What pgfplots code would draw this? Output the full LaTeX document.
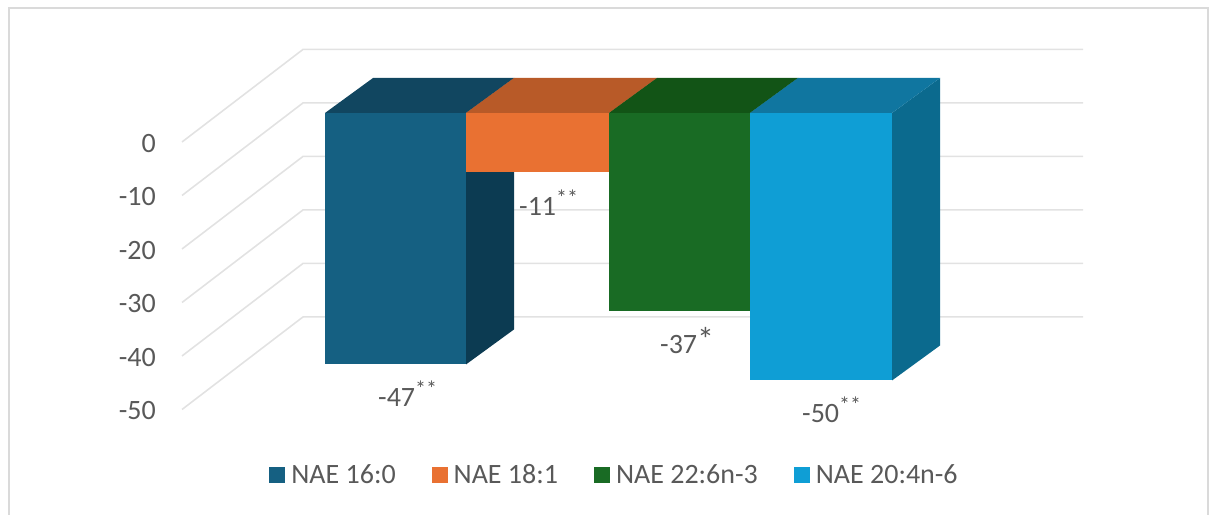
\documentclass[border=0pt]{standalone}
\usepackage{fontspec}
\setmainfont{Carlito}
\usepackage{pgfplots}
\pgfplotsset{compat=1.18}

\definecolor{palm}{HTML}{156082}\definecolor{palmtop}{HTML}{114660}\definecolor{palmside}{HTML}{0C3B52}
\definecolor{olei}{HTML}{E97132}\definecolor{oleitop}{HTML}{B85A28}\definecolor{oleiside}{HTML}{A04E22}
\definecolor{doco}{HTML}{196B24}\definecolor{docotop}{HTML}{125416}\definecolor{docoside}{HTML}{104A14}
\definecolor{arac}{HTML}{0F9ED5}\definecolor{aractop}{HTML}{1076A0}\definecolor{aracside}{HTML}{0B6A8E}
\definecolor{gridgrey}{HTML}{E2E2E2}
\definecolor{framegrey}{HTML}{DADADA}
\definecolor{labelgrey}{HTML}{595959}

% Depth of the chart floor and of the bars, in x units and in y-axis units
\def\walldx{121}\def\walldy{17.3}
\def\barfront{5.42}\def\bardx{48}\def\bardy{6.54}

% Significance stars set above the value
\newcommand{\sig}[3]{\raisebox{#2pt}{\fontsize{#3}{#3}\selectfont #1}}

% Wall gridline at one tick value
\newcommand{\wallline}[1]{%
  \pgfmathsetmacro\ya{#1+\walldy}%
  \addplot[gridgrey, line width=1.6pt, forget plot] coordinates {(182,#1) (303,\ya) (1083,\ya)};
}
% Block with its side, top and front faces: x0, x1, value, colours
\newcommand{\barblock}[6]{%
  \pgfmathsetmacro\ytop{\barfront}%
  \pgfmathsetmacro\ybot{#3+\barfront}%
  \pgfmathsetmacro\ytopb{\barfront+\bardy}%
  \pgfmathsetmacro\ybotb{#3+\barfront+\bardy}%
  \pgfmathsetmacro\xa{#1+\bardx}%
  \pgfmathsetmacro\xb{#2+\bardx}%
  \addplot[fill=#6, draw=none, forget plot] coordinates {(#2,\ytop) (\xb,\ytopb) (\xb,\ybotb) (#2,\ybot)} --cycle;
  \addplot[fill=#5, draw=none, forget plot] coordinates {(#1,\ytop) (\xa,\ytopb) (\xb,\ytopb) (#2,\ytop)} --cycle;
  \addplot[fill=#4, draw=none, forget plot] coordinates {(#1,\ytop) (#2,\ytop) (#2,\ybot) (#1,\ybot)} --cycle;
}

\begin{document}
\begin{tikzpicture}
\begin{axis}[
  scale only axis, width=1028pt, height=515pt,
  xmin=182, xmax=1210, ymin=-69.72, ymax=26.54,
  clip=false, no markers,
  axis line style={draw=none}, tick style={draw=none},
  major tick length=0pt,
  xtick=\empty,
  ytick={-50,-40,-30,-20,-10,0},
  yticklabels={-50,-40,-30,-20,-10,0},
  yticklabel style={inner sep=0pt, xshift=-26pt, yshift=-1.5pt, text=labelgrey, font=\fontsize{28}{32}\selectfont},
  legend image code/.code={\path[#1, draw=none] (0pt,-8pt) rectangle (16pt,8pt);},
  legend style={at={(axis cs:614.5,-62.2)}, anchor=center, draw=none, fill=none,
    legend columns=4, text=labelgrey, font=\fontsize{28}{32}\selectfont,
    /tikz/every odd column/.style={column sep=4pt},
    /tikz/every even column/.style={column sep=34pt}},
]
% Extent of the card and its frame
\path (axis cs:0,-69.72) rectangle (axis cs:1210,26.54);
\draw[framegrey, line width=1.4pt] (axis cs:9,-69.72) -- (axis cs:9,25.05) -- (axis cs:1208,25.05) -- (axis cs:1208,-69.72);

\wallline{0}\wallline{-10}\wallline{-20}\wallline{-30}\wallline{-40}\wallline{-50}

\barblock{325}{466}{-47}{palm}{palmtop}{palmside}
\barblock{466}{609}{-11}{olei}{oleitop}{oleiside}
\barblock{609}{750}{-37}{doco}{docotop}{docoside}
\barblock{750}{892}{-50}{arac}{aractop}{aracside}

\addlegendimage{fill=palm}\addlegendentry{NAE 16:0}
\addlegendimage{fill=olei}\addlegendentry{NAE 18:1}
\addlegendimage{fill=doco}\addlegendentry{NAE 22:6n-3}
\addlegendimage{fill=arac}\addlegendentry{NAE 20:4n-6}

\begin{scope}[every node/.style={anchor=base west, inner sep=0pt, text=labelgrey, font=\fontsize{28}{32}\selectfont}]
\node at (axis cs:378,-49.53) {-47\sig{**}{10}{22}};
\node at (axis cs:519,-13.83) {-11\sig{**}{10}{22}};
\node at (axis cs:660,-39.62) {-37\sig{*}{2}{34}};
\node at (axis cs:802,-52.52) {-50\sig{**}{10}{22}};
\end{scope}
\end{axis}
\end{tikzpicture}
\end{document}
